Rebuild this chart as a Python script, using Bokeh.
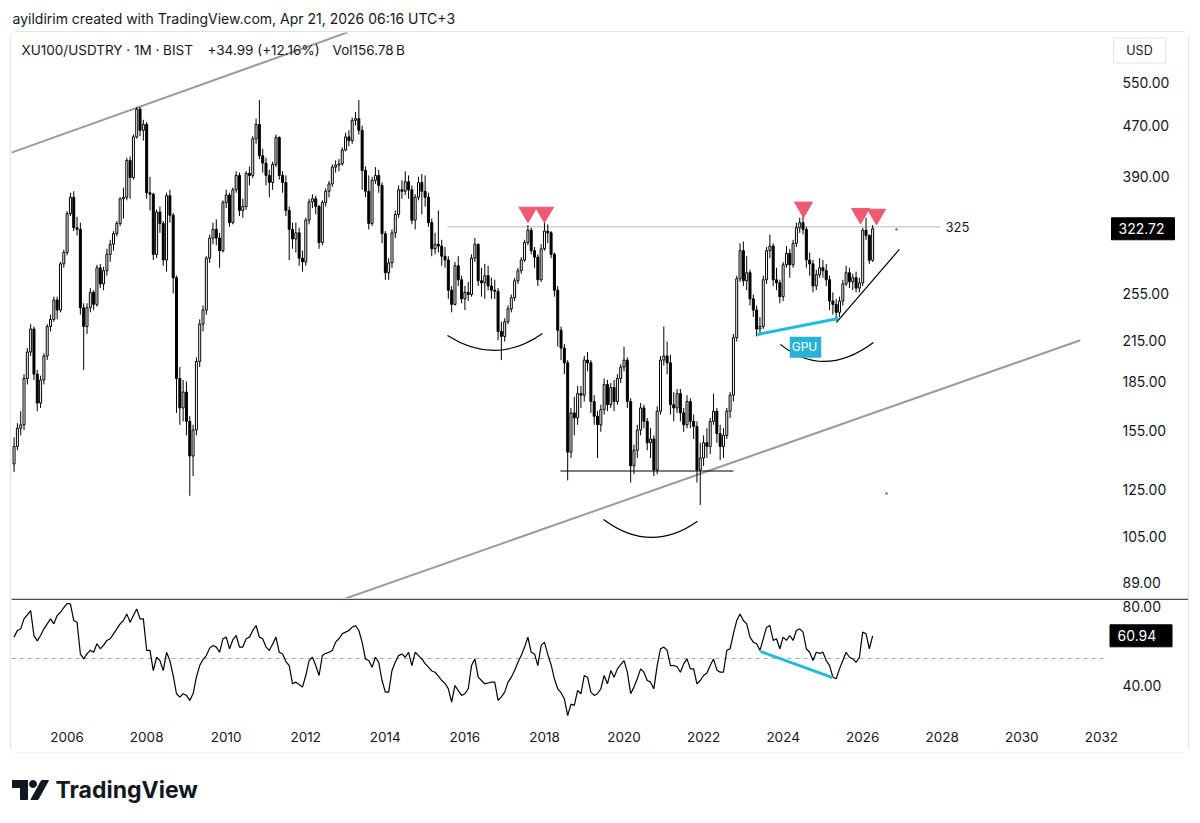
from bokeh.plotting import figure
from bokeh.models import (Range1d, FixedTicker, PrintfTickFormatter, ColumnDataSource,
                          Label, Span, Spacer)
from bokeh.layouts import column, row
from bokeh.core.properties import value
from bokeh.embed import file_html
from bokeh.resources import INLINE

FONT = "Inter"
INK = "#131722"
CYAN = "#1fbcd9"
PINK = "#ef5a73"

# ---------------- data (monthly XU100/USDTRY, first bar Sep 2004) ----------------
first_year = 2004
first_month = 9
first_open = 137.0

close = [
    146, 156, 158, 187,                                            # 2004 Sep-Dec
    206, 224, 190, 171, 186, 203, 226, 232, 249, 240, 284, 296,    # 2005
    341, 362, 324, 322, 242, 226, 242, 256, 245, 280, 264, 277,    # 2006
    294, 305, 317, 329, 360, 362, 414, 389, 451, 499, 462, 472,    # 2007
    368, 366, 294, 343, 329, 288, 364, 339, 270, 187, 168, 178,    # 2008
    160, 141, 155, 199, 228, 240, 290, 312, 322, 312, 298, 355,    # 2009
    365, 330, 372, 392, 345, 350, 395, 392, 448, 472, 421, 410,    # 2010
    392, 382, 408, 450, 392, 382, 345, 322, 311, 318, 290, 286,    # 2011
    333, 356, 360, 350, 307, 355, 370, 380, 404, 407, 409, 430,    # 2012
    451, 445, 479, 482, 462, 399, 370, 329, 385, 392, 378, 317,    # 2013
    275, 285, 318, 340, 372, 370, 383, 372, 333, 362, 382, 370,    # 2014
    362, 330, 300, 305, 303, 292, 288, 258, 245, 282, 268, 250,    # 2015
    256, 254, 290, 305, 267, 265, 272, 262, 258, 257, 222, 218,    # 2016
    230, 241, 251, 267, 277, 288, 307, 321, 298, 291, 268, 300,    # 2017
    320, 318, 294, 258, 223, 209, 198, 143, 165, 162, 177, 176,    # 2018
    200, 198, 172, 163, 158, 167, 183, 170, 181, 172, 187, 195,    # 2019
    200, 172, 136, 144, 155, 168, 160, 148, 150, 134, 166, 200,    # 2020
    203, 198, 170, 168, 177, 165, 158, 172, 160, 157, 134, 140,    # 2021
    148, 146, 160, 166, 153, 146, 152, 166, 176, 217, 269, 298,    # 2022
    267, 275, 250, 240, 224, 226, 268, 298, 303, 268, 265, 252,    # 2023
    283, 295, 283, 306, 324, 330, 322, 288, 284, 262, 273, 280,    # 2024
    277, 268, 248, 245, 238, 248, 264, 275, 266, 270, 260, 265,    # 2025
    321, 315, 287.73, 322.72,                                      # 2026 Jan-Apr
]
high = [
    151, 159, 166, 190,
    209, 228, 226, 193, 189, 205, 228, 236, 252, 252, 286, 299,
    344, 368, 370, 337, 330, 246, 246, 260, 258, 283, 284, 281,
    300, 310, 320, 332, 362, 375, 418, 420, 455, 503, 503, 480,
    476, 390, 368, 346, 350, 332, 368, 372, 342, 272, 195, 186,
    185, 163, 158, 202, 232, 244, 292, 316, 330, 334, 318, 358,
    372, 368, 375, 398, 396, 360, 398, 405, 452, 482, 516, 432,
    418, 400, 412, 455, 452, 398, 392, 350, 330, 330, 324, 298,
    336, 360, 366, 364, 352, 358, 374, 384, 408, 414, 416, 434,
    458, 462, 484, 494, 516, 470, 405, 392, 390, 404, 400, 382,
    320, 290, 322, 345, 378, 385, 398, 392, 378, 366, 390, 394,
    392, 368, 335, 318, 345, 310, 302, 292, 262, 286, 292, 272,
    262, 266, 294, 312, 306, 280, 284, 282, 270, 268, 260, 230,
    233, 244, 254, 270, 280, 291, 310, 327, 324, 302, 294, 305,
    330, 328, 320, 296, 262, 226, 212, 200, 168, 175, 182, 182,
    203, 206, 200, 176, 166, 170, 187, 186, 184, 186, 190, 197,
    210, 202, 174, 147, 158, 171, 170, 162, 156, 152, 169, 203,
    226, 214, 204, 178, 180, 180, 168, 176, 174, 164, 160, 148,
    152, 156, 162, 177, 168, 158, 156, 168, 178, 220, 272, 306,
    308, 292, 278, 254, 244, 234, 272, 302, 316, 306, 280, 268,
    286, 303, 300, 310, 330, 336, 349, 325, 296, 288, 278, 290,
    288, 284, 272, 256, 250, 252, 268, 282, 280, 274, 276, 270,
    324, 336, 316, 327,
]
low = [
    133, 144, 152, 155,
    183, 203, 186, 166, 168, 183, 200, 222, 230, 232, 238, 280,
    293, 338, 320, 315, 236, 193, 220, 238, 240, 243, 260, 258,
    272, 286, 298, 314, 326, 335, 358, 360, 386, 448, 452, 445,
    360, 345, 288, 290, 318, 282, 276, 330, 255, 165, 158, 160,
    152, 122, 131, 152, 195, 222, 236, 285, 305, 304, 280, 296,
    348, 325, 328, 368, 338, 336, 346, 378, 388, 440, 416, 396,
    378, 362, 372, 404, 386, 368, 338, 288, 300, 296, 282, 276,
    282, 328, 348, 340, 300, 304, 350, 362, 376, 396, 398, 406,
    428, 436, 440, 470, 455, 372, 362, 322, 326, 380, 368, 306,
    268, 268, 280, 312, 336, 360, 365, 360, 328, 322, 358, 340,
    350, 325, 292, 294, 296, 282, 280, 250, 238, 244, 262, 246,
    240, 248, 252, 286, 262, 252, 250, 258, 250, 250, 215, 200,
    214, 228, 238, 248, 264, 274, 286, 304, 294, 280, 262, 266,
    298, 306, 290, 252, 210, 200, 190, 129, 140, 152, 158, 168,
    172, 192, 165, 158, 140, 154, 164, 166, 168, 166, 170, 184,
    192, 168, 128, 132, 140, 152, 156, 144, 140, 131, 132, 164,
    196, 190, 164, 160, 165, 160, 154, 156, 156, 150, 128, 118,
    136, 140, 142, 158, 148, 139, 140, 150, 162, 172, 214, 266,
    262, 258, 244, 234, 218, 219, 224, 264, 290, 262, 258, 246,
    248, 280, 270, 280, 302, 318, 316, 280, 272, 256, 258, 270,
    270, 262, 240, 236, 231, 234, 244, 262, 260, 258, 256, 256,
    262, 310, 284, 286,
]
rsi = [
    60.3, 63.5, 64.3, 69.1,
    71.0, 73.1, 61.0, 58.5, 61.1, 64.3, 66.7, 69.1, 66.7, 70.7, 72.3, 74.5,
    76.5, 76.3, 68.3, 67.5, 52.2, 49.8, 52.2, 54.0, 53.0, 57.1, 54.7, 56.3,
    58.7, 59.5, 61.9, 64.3, 66.7, 68.3, 71.5, 67.5, 70.7, 73.9, 69.1, 69.1,
    53.9, 53.9, 44.2, 50.6, 49.0, 44.2, 53.0, 49.0, 41.8, 33.0, 31.4, 33.0,
    32.2, 29.8, 33.0, 41.0, 46.6, 49.5, 51.4, 55.0, 56.3, 55.5, 53.0, 59.5,
    60.3, 54.7, 59.0, 61.1, 55.5, 55.5, 59.5, 60.3, 63.5, 65.9, 60.3, 59.5,
    55.5, 53.9, 57.0, 60.3, 53.0, 52.2, 48.5, 46.6, 37.8, 38.6, 37.5, 36.2,
    41.8, 49.0, 50.6, 46.6, 41.8, 51.4, 52.5, 53.0, 53.9, 57.9, 59.5, 61.9,
    62.7, 63.5, 65.1, 65.9, 63.5, 57.9, 49.8, 49.0, 45.8, 50.6, 48.2, 39.4,
    33.8, 33.8, 44.2, 48.2, 51.4, 52.2, 50.6, 53.0, 46.6, 53.0, 51.4, 49.8,
    47.5, 45.8, 44.0, 43.4, 41.5, 39.4, 38.0, 35.4, 29.0, 37.0, 34.5, 32.2,
    33.0, 35.4, 46.6, 49.8, 41.0, 39.4, 37.8, 38.2, 38.6, 38.6, 29.8, 31.5,
    33.8, 38.6, 41.0, 44.2, 48.2, 51.4, 55.5, 60.3, 53.0, 52.2, 46.6, 56.3,
    57.9, 52.0, 47.0, 40.2, 35.4, 33.5, 30.5, 22.5, 28.0, 27.4, 34.6, 33.0,
    41.8, 41.0, 33.8, 32.2, 33.0, 35.4, 41.8, 37.8, 44.2, 41.0, 45.0, 47.0,
    49.0, 43.4, 33.0, 36.2, 40.2, 45.0, 43.4, 39.4, 38.6, 35.4, 46.6, 54.7,
    55.5, 53.9, 46.6, 46.6, 46.0, 43.4, 47.4, 49.8, 45.0, 45.0, 37.8, 39.4,
    41.8, 43.0, 46.6, 49.8, 44.5, 43.4, 43.4, 53.9, 54.7, 62.0, 68.3, 71.5,
    68.3, 66.7, 60.3, 57.9, 57.1, 53.9, 59.5, 65.1, 65.9, 58.7, 59.5, 54.7,
    60.3, 58.7, 61.1, 58.7, 63.5, 64.3, 62.7, 54.7, 53.0, 49.0, 53.0, 52.5,
    53.0, 49.0, 46.6, 41.0, 40.2, 45.0, 49.0, 53.0, 50.6, 49.8, 48.2, 50.6,
    62.7, 61.9, 54.7, 60.94,
]

price_ticks = [89, 105, 125, 155, 185, 215, 255, 390, 470, 550]
year_ticks = list(range(2006, 2034, 2))
rsi_ticks = [40, 80]

# drawings (time in years, price in USD, RSI in points)
top_channel_t, top_channel_p = [2004.60, 2013.05], [426, 660]
low_channel_t, low_channel_p = [2013.0, 2031.47], [83.9, 215]
level, level_t = 325, [2015.56, 2027.95]
base_t, base_p = [2018.40, 2022.75], [133.5, 133.5]
gpu_t, gpu_p = [2023.355, 2025.39], [219.6, 232.8]
rise_t, rise_p = [2025.34, 2026.92], [229.4, 299.3]
mark_t = [2017.586, 2018.001, 2024.512, 2025.945, 2026.347]
mark_p = [342.5, 342.5, 349, 341, 340]
arc_t0, arc_p0 = [2015.562, 2019.484, 2023.93], [218.8, 111.9, 211.8]
arc_t1, arc_p1 = [2017.95, 2021.847, 2026.27], [220.4, 111.2, 213.3]
arc_tc, arc_pc = [2016.78, 2020.667, 2025.02], [195.5, 98.5, 186.4]
div_t, div_r = [2023.43, 2025.24], [53.4, 40.8]
dot_t, dot_p = [2026.85, 2026.60], [322, 123]

n = len(close)
assert len(high) == n and len(low) == n and len(rsi) == n
t = [first_year + (first_month - 1 + i) / 12 for i in range(n)]
opens = [first_open] + close[:-1]

# x range: chart area (bars) ends at 2032.23, price-scale column to 2034.19
X0, XE, X2 = 2004.602, 2032.229, 2034.190
xr = Range1d(X0, X2)
SCALE_TXT_X = 2032.531     # left edge of scale texts
BOX_X = 2033.046           # centre of value boxes
VAL_TXT_X = 2032.430

# ---------------- header ----------------
p0 = figure(width=1200, height=32, x_range=(0, 1200), y_range=(32, 0),
            toolbar_location=None, output_backend="svg", min_border=0,
            x_axis_location=None, y_axis_location=None, outline_line_color=None)
p0.grid.visible = False
p0.text(x=[12], y=[18], text=["ayildirim created with TradingView.com, Apr 21, 2026 06:16 UTC+3"],
        text_font=value(FONT), text_font_size="14px", text_baseline="middle", text_color=INK)

# ---------------- price pane ----------------
p1 = figure(width=1177, height=566, x_range=xr, y_range=Range1d(83.9, 659.8),
            y_axis_type="log", y_axis_location=None, x_axis_location=None,
            toolbar_location=None, output_backend="svg", min_border=0,
            outline_line_color=None, background_fill_color="white", border_fill_color="white")
p1.grid.visible = False

p1.line(top_channel_t, top_channel_p, line_color="#9c9c9c", line_width=2)
p1.line(low_channel_t, low_channel_p, line_color="#9c9c9c", line_width=2)
p1.line(level_t, [level, level], line_color="#b8b8b8", line_width=1)

up = [c >= o for o, c in zip(opens, close)]
src = ColumnDataSource(dict(
    t=t, h=high, l=low,
    top=[max(o, c) for o, c in zip(opens, close)],
    bot=[min(o, c) for o, c in zip(opens, close)],
    fill=["white" if u else "black" for u in up],
))
p1.segment(x0="t", y0="l", x1="t", y1="h", source=src, line_color="black", line_width=1)
p1.vbar(x="t", width=0.05, top="top", bottom="bot", source=src,
        fill_color="fill", line_color="black", line_width=1)

p1.line(base_t, base_p, line_color="black", line_width=1.2)
p1.line(gpu_t, gpu_p, line_color=CYAN, line_width=3)
p1.line(rise_t, rise_p, line_color="black", line_width=1.2)
p1.quadratic(x0=arc_t0, y0=arc_p0, x1=arc_t1, y1=arc_p1, cx=arc_tc, cy=arc_pc,
             line_color="black", line_width=1.2)
p1.scatter(mark_t, mark_p, marker="inverted_triangle", size=18, fill_color=PINK,
           line_color=PINK)
p1.scatter(dot_t, dot_p, size=2, color="#888888")

p1.add_layout(Label(x=2028.08, y=level, text="325", text_font=FONT, text_font_size="13px",
                    text_color=INK, text_baseline="middle", text_align="left"))
p1.add_layout(Label(x=2024.562, y=209.5, text="GPU", text_font=FONT, text_font_size="12px",
                    text_color="white", text_baseline="middle", text_align="center",
                    background_fill_color="#29b3d2", padding=(2, 4, 2, 4)))
# legend line
p1.text(x=[2004.854, 2009.529, 2012.672], y=[618, 618, 618],
        text=["XU100/USDTRY · 1M · BIST", "+34.99 (+12.16%)", "Vol156.78\u2009B"],
        text_font=value(FONT), text_font_size="13.5px", text_color=INK, text_baseline="middle")

# price scale column
p1.text(x=[SCALE_TXT_X] * len(price_ticks), y=price_ticks,
        text=[f"{v:.2f}" for v in price_ticks], text_font=value(FONT),
        text_font_size="14px", text_color=INK, text_baseline="middle", text_align="left")
p1.rect(x=[BOX_X], y=[close[-1]], width=63, height=22, width_units="screen",
        height_units="screen", fill_color="black", line_color="black")
p1.text(x=[VAL_TXT_X], y=[close[-1]], text=[f"{close[-1]:.2f}"], text_font=value(FONT),
        text_font_size="14px", text_color="white", text_baseline="middle", text_align="left")
p1.rect(x=[2032.958], y=[618], width=52, height=25, width_units="screen",
        height_units="screen", fill_color="white", line_color="#e0e3eb", line_width=1)
p1.text(x=[2032.958], y=[618], text=["USD"], text_font=value(FONT), text_font_size="12.5px",
        text_color=INK, text_baseline="middle", text_align="center")

# ---------------- RSI pane ----------------
p2 = figure(width=1177, height=154, x_range=xr, y_range=Range1d(21.08, 78.92),
            y_axis_location=None, x_axis_location="below",
            toolbar_location=None, output_backend="svg",
            min_border_left=0, min_border_right=0, min_border_top=0, min_border_bottom=34,
            outline_line_color=None, background_fill_color="white", border_fill_color="white")
p2.grid.visible = False
p2.extra_y_ranges = {"lab": Range1d(23.29, 84.05)}

xa = p2.xaxis[0]
xa.ticker = FixedTicker(ticks=year_ticks)
xa.formatter = PrintfTickFormatter(format="%d")
xa.axis_line_color = None
xa.major_tick_line_color = None
xa.minor_tick_line_color = None
xa.major_label_standoff = 7
xa.major_label_text_font = FONT
xa.major_label_text_font_size = "13.5px"
xa.major_label_text_color = INK

# pane separator
p2.add_layout(Span(location=78.55, dimension="width", line_color="#4a4d57", line_width=1.5))
p2.line([X0, 2032.16], [50, 50], line_color="#a3a6af", line_dash="4 4", line_width=1)
p2.line(t, rsi, line_color="black", line_width=1.2)
p2.line(div_t, div_r, line_color=CYAN, line_width=3)

p2.text(x=[SCALE_TXT_X] * len(rsi_ticks), y=rsi_ticks, y_range_name="lab",
        text=[f"{v:.2f}" for v in rsi_ticks], text_font=value(FONT),
        text_font_size="14px", text_color=INK, text_baseline="middle", text_align="left")
p2.rect(x=[2032.996], y=[rsi[-1]], width=62, height=22, width_units="screen",
        height_units="screen", fill_color="black", line_color="black")
p2.text(x=[2032.405], y=[rsi[-1]], text=[f"{rsi[-1]:.2f}"], text_font=value(FONT),
        text_font_size="14px", text_color="white", text_baseline="middle", text_align="left")

# ---------------- footer ----------------
p3 = figure(width=1200, height=71, x_range=(0, 1200), y_range=(823, 752),
            toolbar_location=None, output_backend="svg", min_border=0,
            x_axis_location=None, y_axis_location=None, outline_line_color=None)
p3.grid.visible = False
p3.patches(xs=[[12, 27, 27, 12], [20, 27, 27, 20], [30.5, 37.5, 48, 41]],
           ys=[[780, 780, 787, 787], [780, 780, 799, 799], [799, 799, 780, 780]],
           fill_color=INK, line_color=INK)
p3.scatter([32.5], [783.5], size=7, fill_color=INK, line_color=INK)
p3.text(x=[55], y=[789.5], text=["TradingView"], text_font=value(FONT), text_font_size="23px",
        text_font_style="bold", text_baseline="middle", text_color=INK)

inner = column(p1, p2, styles={"box-shadow": "0 0 0 1px #e0e3eb", "border-radius": "6px"})
layout = column(p0, row(Spacer(width=11, height=720), inner), p3)

open("out.html", "w").write(file_html(layout, INLINE))
